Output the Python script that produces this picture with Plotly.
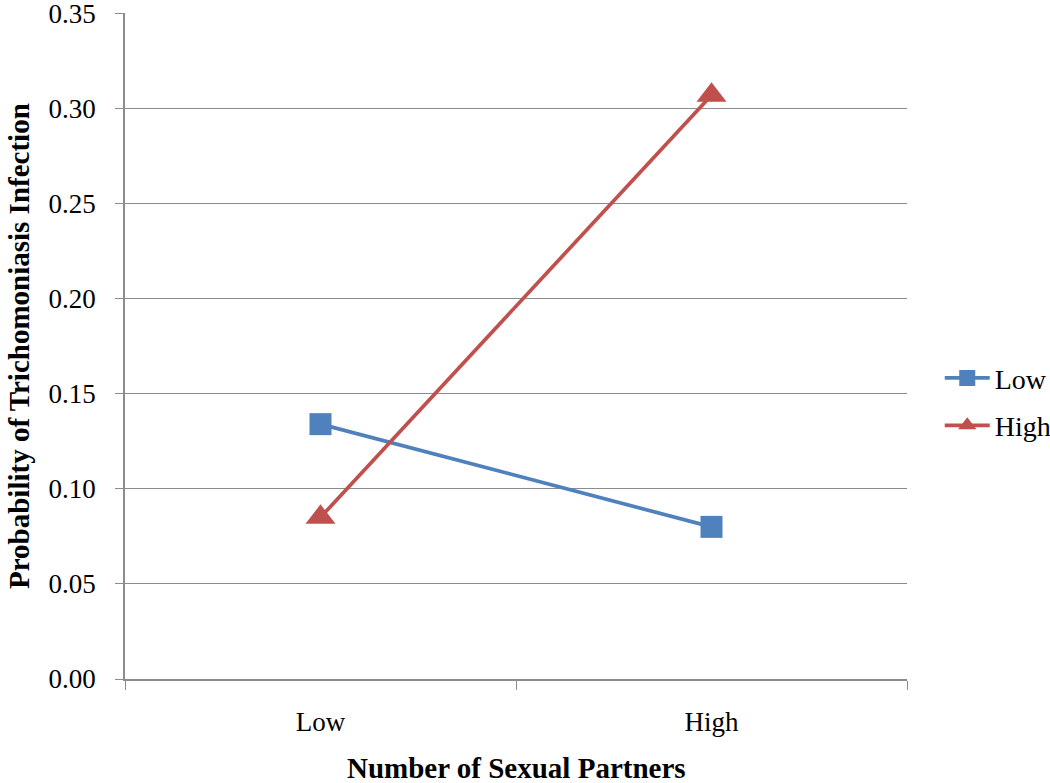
import plotly.graph_objects as go

categories = ["Low", "High"]
series_names = ["Low", "High"]
low_values = [0.134, 0.080]
high_values = [0.085, 0.307]
y_ticks = [0.00, 0.05, 0.10, 0.15, 0.20, 0.25, 0.30, 0.35]

FONT = "Liberation Serif"

fig = go.Figure()
fig.add_trace(go.Scatter(
    x=categories, y=low_values, name=series_names[0], mode="lines+markers",
    legendgroup="a",
    line=dict(color="#4F81BD", width=3.7),
    marker=dict(symbol="square", size=22, color="#4F81BD"),
))
fig.add_trace(go.Scatter(
    x=categories, y=high_values, name=series_names[1], mode="lines+markers",
    legendgroup="b",
    line=dict(color="#C0504D", width=3.7),
    marker=dict(symbol="triangle-up", size=26, color="#C0504D"),
))

fig.update_layout(
    width=1050, height=783,
    margin=dict(l=125, r=143, t=13, b=104),
    paper_bgcolor="white", plot_bgcolor="white",
    font=dict(family=FONT, color="black", size=27),
    legend=dict(xref="container", yref="container", x=0.895, y=0.487,
                xanchor="left", yanchor="middle",
                font=dict(size=28, family=FONT), itemwidth=45,
                tracegroupgap=8),
    showlegend=True,
    annotations=[
        dict(text="<b>Number of Sexual Partners</b>", x=0.5, y=0, xref="paper", yref="paper",
             xanchor="center", yanchor="middle", yshift=-89, showarrow=False,
             font=dict(size=29, family=FONT, color="black")),
        dict(text="<b>Probability of Trichomoniasis Infection</b>", x=0, y=0.5, xref="paper", yref="paper",
             xanchor="center", yanchor="middle", xshift=-106, textangle=-90, showarrow=False,
             font=dict(size=29, family=FONT, color="black")),
    ],
)
fig.update_xaxes(
    type="category", range=[-0.5, 1.5], automargin=False,
    showgrid=False, showline=True, linecolor="#8C8C8C", linewidth=1.5,
    ticks="outside", tickson="boundaries", ticklen=9, tickcolor="#8C8C8C",
    tickfont=dict(size=27, family=FONT), ticklabelstandoff=18,
)
fig.update_yaxes(
    range=[0, 0.3502], tickvals=y_ticks, ticktext=[f"{v:.2f}" for v in y_ticks],
    automargin=False,
    showgrid=True, gridcolor="#8C8C8C", gridwidth=1.2,
    showline=True, linecolor="#8C8C8C", linewidth=1.5,
    ticks="outside", ticklen=8, tickcolor="#8C8C8C",
    zeroline=False, ticklabeloverflow="allow",
    tickfont=dict(size=27, family=FONT), ticklabelstandoff=14,
)

fig.write_html("out.html", config={"displayModeBar": False},
               post_script="document.body.style.margin='0';")
